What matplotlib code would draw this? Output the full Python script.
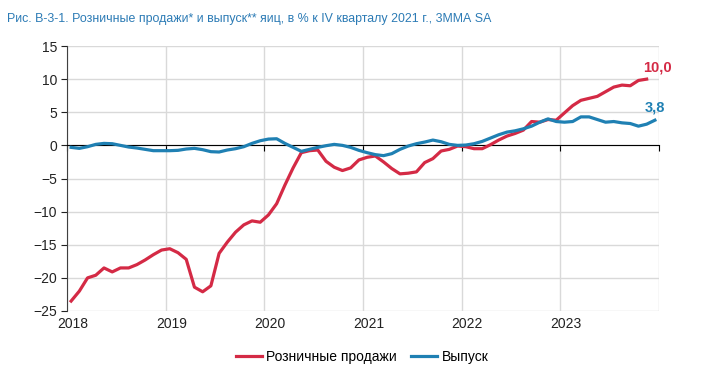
import matplotlib.pyplot as plt
import numpy as np

plt.rcParams['font.family'] = ['Liberation Sans', 'DejaVu Sans']

# monthly values, Jan 2018 .. Dec 2023 (retail ends Nov 2023)
retail = [-23.5, -22.0, -20.0, -19.6, -18.5, -19.1, -18.5, -18.5, -18.0, -17.3, -16.5, -15.8,
          -15.6, -16.2, -17.2, -21.4, -22.1, -21.2, -16.3, -14.6, -13.1, -12.0, -11.4, -11.6,
          -10.5, -8.8, -6.0, -3.4, -1.1, -0.8, -0.7, -2.4, -3.3, -3.8, -3.4, -2.2,
          -1.8, -1.6, -2.5, -3.5, -4.3, -4.2, -4.0, -2.6, -2.0, -0.85, -0.6, -0.1,
          -0.2, -0.5, -0.5, 0.1, 0.8, 1.4, 1.8, 2.3, 3.6, 3.5, 3.9, 3.8,
          4.9, 6.0, 6.8, 7.1, 7.4, 8.1, 8.8, 9.1, 9.0, 9.8, 10.0]
output = [-0.3, -0.45, -0.2, 0.15, 0.3, 0.25, 0.0, -0.25, -0.4, -0.6, -0.8, -0.8,
          -0.8, -0.75, -0.55, -0.45, -0.65, -0.95, -1.0, -0.7, -0.5, -0.2, 0.3, 0.7,
          0.95, 1.0, 0.3, -0.3, -0.9, -0.6, -0.3, -0.05, 0.15, 0.0, -0.3, -0.75,
          -1.1, -1.4, -1.55, -1.25, -0.6, -0.1, 0.25, 0.5, 0.8, 0.55, 0.15, 0.0,
          0.05, 0.25, 0.6, 1.1, 1.6, 2.0, 2.2, 2.5, 2.9, 3.5, 4.0, 3.6,
          3.5, 3.6, 4.3, 4.3, 3.9, 3.5, 3.6, 3.4, 3.3, 2.9, 3.2, 3.8]
years = [2018, 2019, 2020, 2021, 2022, 2023]

red = '#D42A45'
blue = '#1F80B3'

t_r = 2018 + (np.arange(len(retail)) + 0.5) / 12
t_o = 2018 + (np.arange(len(output)) + 0.5) / 12

fig = plt.figure(figsize=(7.06, 3.72), dpi=100)
ax = fig.add_axes([67/706, 1 - 311/372, 592/706, 265/372])

ax.plot(t_r, retail, color=red, lw=2.3, label='Розничные продажи', zorder=3)
ax.plot(t_o, output, color=blue, lw=2.3, label='Выпуск', zorder=4)

ax.set_xlim(2018, 2024)
ax.set_ylim(-25, 15)
ax.set_yticks(range(-25, 16, 5))
ax.set_xticks(range(2018, 2025))
ax.grid(True, color='#D9D9D9', lw=1)
ax.set_axisbelow(True)

for s in ['top', 'right']:
    ax.spines[s].set_visible(False)
ax.spines['bottom'].set_position(('data', 0))
ax.spines['bottom'].set_color('black')
ax.spines['left'].set_color('#404040')
ax.tick_params(axis='x', length=4, labelbottom=False, color='black')
ax.tick_params(axis='y', length=4, labelsize=10, colors='#222222', pad=3)

for yr in years:
    ax.annotate(str(yr), (yr, -25), xytext=(4, -4), textcoords='offset points',
                ha='center', va='top', fontsize=10, color='#222222',
                annotation_clip=False)

ax.annotate('10,0', (t_r[-1], retail[-1]), xytext=(8, 3), textcoords='offset points',
            ha='center', va='bottom', fontsize=10.5, color=red, fontweight='bold')
ax.annotate('3,8', (t_o[-1], output[-1]), xytext=(0, 4), textcoords='offset points',
            ha='center', va='bottom', fontsize=10.5, color=blue, fontweight='bold')

fig.text(7/706, 1 - 19/372, 'Рис. В-3-1. Розничные продажи* и выпуск** яиц, в % к IV кварталу 2021 г., 3ММА SA',
         fontsize=8.9, color='#2C7BB5', va='center', ha='left')

fig.legend(loc='center', bbox_to_anchor=(0.513, 1 - 357/372), ncol=2, frameon=False,
           fontsize=10, handlelength=1.9, handletextpad=0.3, columnspacing=1.0)

fig.savefig('out.png', dpi=100)
